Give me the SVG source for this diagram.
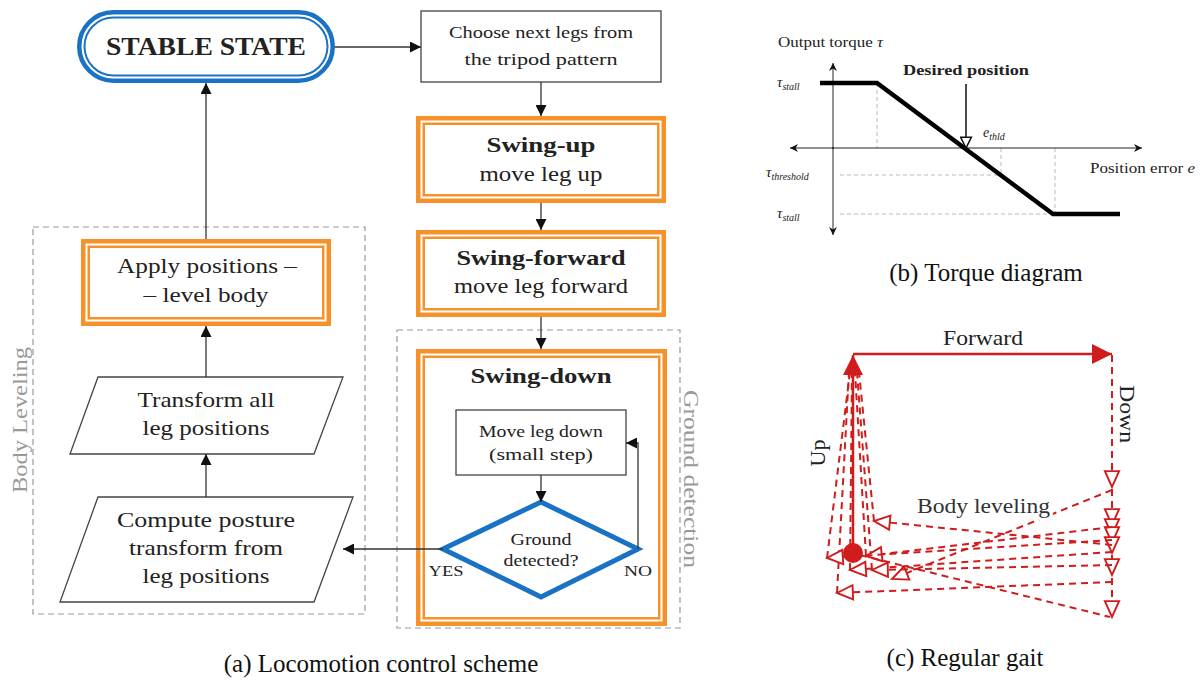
<svg xmlns="http://www.w3.org/2000/svg" width="1203" height="681" viewBox="0 0 1203 681">
<style>
text{font-family:"Liberation Serif","Times New Roman",serif;fill:#222}
.b{font-weight:bold}
.ob{fill:#fff;stroke:#f7922a;stroke-width:9}
.ow{fill:none;stroke:#fff;stroke-width:2}
.bx{fill:#fff;stroke:#444;stroke-width:1.3}
.grp{fill:none;stroke:#999;stroke-width:1.2;stroke-dasharray:6 4}
.con{fill:none;stroke:#333;stroke-width:1.3}
.gl{fill:#999}
.ax{fill:none;stroke:#222;stroke-width:1}
.gd{fill:none;stroke:#bbb;stroke-width:1;stroke-dasharray:4 3}
.rd{fill:none;stroke:#d01c1c;stroke-width:2;stroke-dasharray:7 5}
.rs{fill:none;stroke:#d01c1c;stroke-width:2.5}
.cap{font-size:25px;fill:#111}
</style>
<defs>
<marker id="arr" viewBox="0 0 10 10" refX="10" refY="5" markerWidth="11" markerHeight="11" markerUnits="userSpaceOnUse" orient="auto"><path d="M0,0 L10,5 L0,10 z" fill="#111"/></marker>
<marker id="axa" viewBox="0 0 10 10" refX="10" refY="5" markerWidth="8" markerHeight="8" markerUnits="userSpaceOnUse" orient="auto"><path d="M0,0 L10,5 L0,10 L3,5 z" fill="#111"/></marker>
<marker id="hol" viewBox="0 0 12 12" refX="11" refY="6" markerWidth="13" markerHeight="13" markerUnits="userSpaceOnUse" orient="auto"><path d="M1,1 L11,6 L1,11 z" fill="#fff" stroke="#111" stroke-width="1.4"/></marker>
<marker id="hr" viewBox="0 0 12 12" refX="11" refY="6" markerWidth="19" markerHeight="19" markerUnits="userSpaceOnUse" orient="auto"><path d="M1,1.5 L11,6 L1,10.5 z" fill="#fff" stroke="#d01c1c" stroke-width="1.2"/></marker>
<marker id="fr" viewBox="0 0 10 10" refX="10" refY="5" markerWidth="20" markerHeight="20" markerUnits="userSpaceOnUse" orient="auto"><path d="M0,0 L10,5 L0,10 z" fill="#d01c1c"/></marker>
</defs>

<!-- group boxes -->
<g id="body-leveling-group">
<rect class="grp" x="33" y="227" width="332" height="387"/>
<text class="gl" font-size="22" transform="translate(27,420) rotate(-90)" text-anchor="middle" textLength="146" lengthAdjust="spacingAndGlyphs">Body Leveling</text>
</g>
<g id="ground-detection-group">
<rect class="grp" x="397" y="330" width="283" height="298"/>
<text class="gl" font-size="22" transform="translate(684,479) rotate(90)" text-anchor="middle" textLength="178" lengthAdjust="spacingAndGlyphs">Ground detection</text>
</g>

<g id="stable-state">
<rect x="81.25" y="14.25" width="249.5" height="64.5" rx="32.25" fill="#fff" stroke="#1a72c4" stroke-width="8.5"/>
<rect x="82.5" y="15.5" width="247" height="62" rx="31" fill="none" stroke="#fff" stroke-width="2"/>
<text class="b" x="206" y="55" font-size="26" text-anchor="middle" textLength="200" lengthAdjust="spacingAndGlyphs">STABLE STATE</text>
</g>

<g id="choose-legs">
<rect class="bx" x="421" y="11" width="240" height="71"/>
<text x="541" y="38" font-size="17" text-anchor="middle" textLength="184" lengthAdjust="spacingAndGlyphs">Choose next legs from</text>
<text x="541" y="65" font-size="17" text-anchor="middle" textLength="153" lengthAdjust="spacingAndGlyphs">the tripod pattern</text>
</g>

<g id="swing-up">
<rect class="ob" x="420.5" y="120.5" width="241" height="78"/>
<rect class="ow" x="421.5" y="121.5" width="239" height="76"/>
<text class="b" x="541" y="152" font-size="22" text-anchor="middle" textLength="109" lengthAdjust="spacingAndGlyphs">Swing-up</text>
<text x="541" y="181" font-size="22" text-anchor="middle" textLength="123" lengthAdjust="spacingAndGlyphs">move leg up</text>
</g>

<g id="swing-forward">
<rect class="ob" x="420.5" y="234.5" width="241" height="78"/>
<rect class="ow" x="421.5" y="235.5" width="239" height="76"/>
<text class="b" x="541" y="265" font-size="22" text-anchor="middle" textLength="169" lengthAdjust="spacingAndGlyphs">Swing-forward</text>
<text x="541" y="293" font-size="22" text-anchor="middle" textLength="174" lengthAdjust="spacingAndGlyphs">move leg forward</text>
</g>

<g id="swing-down">
<rect class="ob" x="420.5" y="353.5" width="242" height="268"/>
<rect class="ow" x="421.5" y="354.5" width="240" height="266"/>
<text class="b" x="541" y="383" font-size="22" text-anchor="middle" textLength="141" lengthAdjust="spacingAndGlyphs">Swing-down</text>
</g>

<g id="move-leg-down">
<rect class="bx" x="456" y="410" width="170" height="65"/>
<text x="541" y="437" font-size="17" text-anchor="middle" textLength="124" lengthAdjust="spacingAndGlyphs">Move leg down</text>
<text x="541" y="460" font-size="17" text-anchor="middle" textLength="104" lengthAdjust="spacingAndGlyphs">(small step)</text>
</g>

<g id="ground-detected">
<polygon points="541,502 638,549 541,597 443,549" fill="#fff" stroke="#1a72c4" stroke-width="5" stroke-linejoin="miter"/>
<text x="541" y="545" font-size="16" text-anchor="middle" textLength="61" lengthAdjust="spacingAndGlyphs">Ground</text>
<text x="541" y="566" font-size="16" text-anchor="middle" textLength="75" lengthAdjust="spacingAndGlyphs">detected?</text>
<text x="446" y="576" font-size="15" text-anchor="middle" textLength="35" lengthAdjust="spacingAndGlyphs">YES</text>
<text x="638" y="576" font-size="15" text-anchor="middle" textLength="28" lengthAdjust="spacingAndGlyphs">NO</text>
</g>

<g id="apply-positions">
<rect class="ob" x="85.5" y="243.5" width="241" height="78"/>
<rect class="ow" x="86.5" y="244.5" width="239" height="76"/>
<text x="207" y="273" font-size="22" text-anchor="middle" textLength="180" lengthAdjust="spacingAndGlyphs">Apply positions –</text>
<text x="206" y="302" font-size="22" text-anchor="middle" textLength="125" lengthAdjust="spacingAndGlyphs">– level body</text>
</g>

<g id="transform-legs">
<polygon class="bx" points="98,377 343,377 314,454 70,454"/>
<text x="206" y="407" font-size="22" text-anchor="middle" textLength="137" lengthAdjust="spacingAndGlyphs">Transform all</text>
<text x="206" y="435" font-size="22" text-anchor="middle" textLength="127" lengthAdjust="spacingAndGlyphs">leg positions</text>
</g>

<g id="compute-posture">
<polygon class="bx" points="98,497 353,497 314,602 60,602"/>
<text x="206" y="527" font-size="22" text-anchor="middle" textLength="178" lengthAdjust="spacingAndGlyphs">Compute posture</text>
<text x="206" y="555" font-size="22" text-anchor="middle" textLength="154" lengthAdjust="spacingAndGlyphs">transform from</text>
<text x="206" y="583" font-size="22" text-anchor="middle" textLength="127" lengthAdjust="spacingAndGlyphs">leg positions</text>
</g>

<!-- connectors -->
<g id="connectors">
<line class="con" x1="335" y1="47" x2="421" y2="47" marker-end="url(#arr)"/>
<line class="con" x1="541" y1="82" x2="541" y2="116" marker-end="url(#arr)"/>
<line class="con" x1="541" y1="203" x2="541" y2="230" marker-end="url(#arr)"/>
<line class="con" x1="541" y1="317" x2="541" y2="349" marker-end="url(#arr)"/>
<line class="con" x1="541" y1="475" x2="541" y2="502" marker-end="url(#arr)"/>
<path class="con" d="M638,549 V443 H626" marker-end="url(#arr)"/>
<line class="con" x1="443" y1="549" x2="343" y2="549" marker-end="url(#arr)"/>
<line class="con" x1="206" y1="497" x2="206" y2="454" marker-end="url(#arr)"/>
<line class="con" x1="206" y1="377" x2="206" y2="326" marker-end="url(#arr)"/>
<line class="con" x1="206" y1="239" x2="206" y2="83" marker-end="url(#arr)"/>
</g>

<text class="cap" x="381" y="672" text-anchor="middle">(a) Locomotion control scheme</text>

<!-- (b) torque diagram -->
<g id="torque-diagram">
<line class="gd" x1="877" y1="83" x2="877" y2="148"/>
<line class="gd" x1="1001" y1="148" x2="1001" y2="175"/>
<line class="gd" x1="1055" y1="148" x2="1055" y2="214"/>
<line class="gd" x1="840" y1="175" x2="1001" y2="175"/>
<line class="gd" x1="840" y1="214" x2="1053" y2="214"/>
<line class="ax" x1="833" y1="149" x2="833" y2="63" marker-end="url(#axa)"/>
<line class="ax" x1="833" y1="147" x2="833" y2="235" marker-end="url(#axa)"/>
<line class="ax" x1="834" y1="148" x2="790" y2="148" marker-end="url(#axa)"/>
<line class="ax" x1="832" y1="148" x2="1142" y2="148" marker-end="url(#axa)"/>
<polyline points="820,83 877,83 1053,214 1120,214" fill="none" stroke="#000" stroke-width="4.5" stroke-linejoin="miter"/>
<line x1="966" y1="84" x2="966" y2="148" stroke="#111" stroke-width="1.5" marker-end="url(#hol)"/>
<text x="778" y="47" font-size="14" textLength="105" lengthAdjust="spacingAndGlyphs">Output torque <tspan font-style="italic">τ</tspan></text>
<text class="b" x="903" y="75" font-size="15" textLength="126" lengthAdjust="spacingAndGlyphs">Desired position</text>
<text x="777" y="87" font-size="15" font-style="italic">τ<tspan font-size="10" dy="3">stall</tspan></text>
<text x="766" y="177" font-size="15" font-style="italic">τ<tspan font-size="10" dy="3">threshold</tspan></text>
<text x="777" y="218" font-size="15" font-style="italic">τ<tspan font-size="10" dy="3">stall</tspan></text>
<text x="983" y="137" font-size="14" font-style="italic">e<tspan font-size="10" dy="3">thld</tspan></text>
<text x="1090" y="173" font-size="14" textLength="105" lengthAdjust="spacingAndGlyphs">Position error <tspan font-style="italic">e</tspan></text>
</g>
<text class="cap" x="986" y="281" text-anchor="middle">(b) Torque diagram</text>

<!-- (c) regular gait -->
<g id="regular-gait">
<g id="gait-down">
<line class="rd" x1="1112" y1="355" x2="1112" y2="487" marker-end="url(#hr)"/>
<line class="rd" x1="1112" y1="489" x2="1112" y2="525" marker-end="url(#hr)"/>
<line class="rd" x1="1112" y1="527" x2="1112" y2="535" marker-end="url(#hr)"/>
<line class="rd" x1="1112" y1="536" x2="1112" y2="543" marker-end="url(#hr)"/>
<line class="rd" x1="1112" y1="544" x2="1112" y2="553" marker-end="url(#hr)"/>
<line class="rd" x1="1112" y1="555" x2="1112" y2="575" marker-end="url(#hr)"/>
<line class="rd" x1="1112" y1="578" x2="1112" y2="617" marker-end="url(#hr)"/>
</g>
<g id="gait-up-lines">
<line class="rd" x1="874" y1="521" x2="859" y2="372"/>
<line class="rd" x1="827" y1="558" x2="850" y2="372"/>
<line class="rd" x1="850" y1="570" x2="852" y2="372"/>
<line class="rd" x1="872" y1="570" x2="857" y2="372"/>
<line class="rd" x1="837" y1="593" x2="849" y2="372"/>
<line class="rd" x1="866" y1="556" x2="855" y2="372"/>
</g>
<g id="gait-leveling">
<line class="rd" x1="1112" y1="490" x2="892" y2="579" marker-end="url(#hr)"/>
<line class="rd" x1="1112" y1="527" x2="866" y2="556" marker-end="url(#hr)"/>
<line class="rd" x1="1112" y1="545" x2="874" y2="521" marker-end="url(#hr)"/>
<line class="rd" x1="1112" y1="552" x2="850" y2="570" marker-end="url(#hr)"/>
<line class="rd" x1="1112" y1="565" x2="872" y2="570" marker-end="url(#hr)"/>
<line class="rd" x1="1112" y1="582" x2="837" y2="593" marker-end="url(#hr)"/>
<line class="rd" x1="1112" y1="540" x2="827" y2="558" marker-end="url(#hr)"/>
<line class="rd" x1="860" y1="555" x2="1110" y2="617"/>
</g>
<line class="rs" x1="853" y1="354" x2="1112" y2="354" marker-end="url(#fr)"/>
<line class="rs" x1="853" y1="553" x2="853" y2="355" marker-end="url(#fr)"/>
<circle cx="853" cy="553" r="10" fill="#d01c1c"/>
<text x="983" y="345" font-size="22" text-anchor="middle" textLength="80" lengthAdjust="spacingAndGlyphs">Forward</text>
<text font-size="22" transform="translate(825,453) rotate(-90)" text-anchor="middle">Up</text>
<text font-size="22" transform="translate(1120,414) rotate(90)" text-anchor="middle" textLength="58" lengthAdjust="spacingAndGlyphs">Down</text>
<text x="917" y="513" font-size="22" textLength="133" lengthAdjust="spacingAndGlyphs" stroke="#fff" stroke-width="6" paint-order="stroke" style="fill:#333">Body leveling</text>
</g>
<text class="cap" x="965" y="666" text-anchor="middle">(c) Regular gait</text>
</svg>
